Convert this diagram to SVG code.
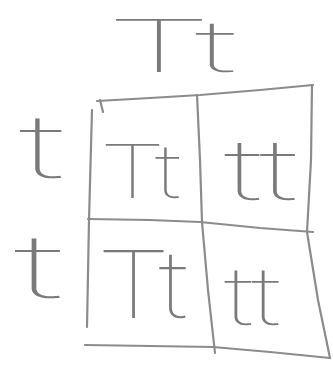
<svg xmlns="http://www.w3.org/2000/svg" width="333" height="367" viewBox="0 0 333 367">
<style>
.ln{fill:none;stroke:#8c8c8c;stroke-width:2.2;stroke-linecap:round;stroke-linejoin:round}
.hw{font-family:Inter,"Lato","Liberation Sans",sans-serif;font-weight:100;fill:#7a7a7a}
</style>
<rect width="333" height="367" fill="#fff"/>
<g id="connectors">
<path class="ln" d="M97,101 L150,98 L200,95 L260,90 L313,85"/>
<path class="ln" d="M100,100 L103,112"/>
<path class="ln" d="M92,110 L89,220 L87,327"/>
<path class="ln" d="M197,95 L200,160 L202,222 L208,290 L215,353"/>
<path class="ln" d="M312,85 L311,160 L307,232 L318,300 L330,358"/>
<path class="ln" d="M88,219 L150,220 L200,222 L260,228 L313,232"/>
<path class="ln" d="M85,345 L150,346 L213,347 L270,352 L330,358"/>
</g>
<g id="top-label"><text class="hw" x="105" y="72" font-size="72" textLength="132" lengthAdjust="spacingAndGlyphs">Tt</text></g>
<g id="row1-label"><text class="hw" x="19" y="178" font-size="88" textLength="46" lengthAdjust="spacingAndGlyphs">t</text></g>
<g id="row2-label"><text class="hw" x="14" y="298" font-size="88" textLength="50" lengthAdjust="spacingAndGlyphs">t</text></g>
<g id="cell-1"><text class="hw" x="99" y="198" font-size="74" textLength="82" lengthAdjust="spacingAndGlyphs">Tt</text></g>
<g id="cell-2"><text class="hw" x="224" y="200" font-size="84" textLength="74" lengthAdjust="spacingAndGlyphs">tt</text></g>
<g id="cell-3"><text class="hw" x="96" y="318" font-size="94" textLength="92" lengthAdjust="spacingAndGlyphs">Tt</text></g>
<g id="cell-4"><text class="hw" x="224" y="325" font-size="80" textLength="57" lengthAdjust="spacingAndGlyphs">tt</text></g>
</svg>
